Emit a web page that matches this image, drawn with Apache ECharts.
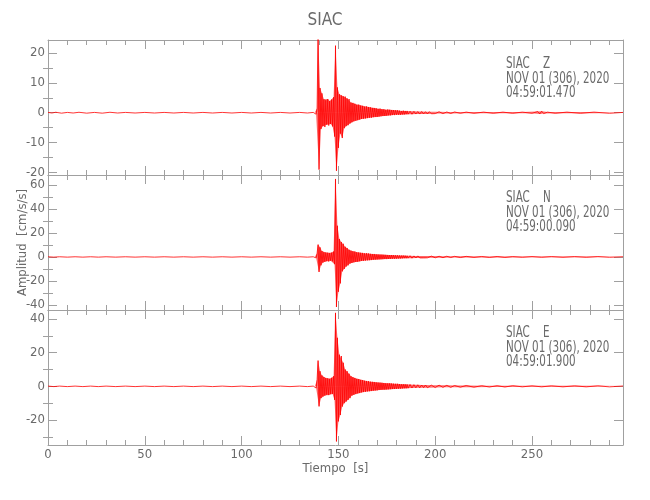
<!DOCTYPE html>
<html><head><meta charset="utf-8">
<script src="https://cdn.jsdelivr.net/npm/echarts@6/dist/echarts.min.js"></script>
<style>html,body{margin:0;padding:0;background:#fff}#c{width:650px;height:500px}</style>
</head><body><div id="c"></div>
<script>
// ---------- DATA ----------
const xTickLabels = [0, 50, 100, 150, 200, 250];
const yTicksZ = [-20, -10, 0, 10, 20];
const yMinorZ = [-15, -5, 5, 15];
const yTicksN = [-40, -20, 0, 20, 40, 60];
const yMinorN = [-30, -10, 10, 30, 50];
const yTicksE = [-20, 0, 20, 40];
const yMinorE = [-30, -10, 10, 30];
const components = ['Z', 'N', 'E'];
const stampDate = 'NOV 01 (306), 2020';
const stampTimes = ['04:59:01.470', '04:59:00.090', '04:59:01.900'];

// burst samples: every 0.5 s starting at 138.0 s
const burstStart = 138.0;
const burstStep = 0.5;

// --- Z component ---
const zPre = [[0,0.1],[2,-0.1],[4,0.15],[7,-0.15],[10,0.1],[13,-0.1],[16,0.15],[20,-0.15],[24,0.1],[28,-0.15],[32,0.15],[36,-0.1],[40,0.1],[45,-0.1],[50,0.1],[55,-0.1],[60,0.1],[65,-0.1],[70,0.1],[75,-0.1],[80,0.1],[85,-0.1],[90,0.1],[95,-0.1],[100,0.1],[105,-0.1],[110,0.1],[115,-0.1],[120,0.1],[125,-0.1],[130,0.1],[134,-0.1],[137,0.1]];
const zBurst = [0.3,-0.5,1.5,27,-19.1,8.3,-5.5,6.5,-4.5,4.5,-4.8,4.2,-4.0,4.6,-4.3,3.9,-3.8,4.4,-4.6,5.2,-8,22.5,-19.5,8.5,-11.8,6.2,-7,5.8,-8.5,5.5,-5.2,5.4,-4.5,4.8,-4.2,4.6,-3.6,3.4,-3.2,3.3,-2.9,3.0,-2.7,2.6,-2.5,2.7,-2.3,2.4,-2.1,2.3,-2.0,2.0,-1.9,2.1,-1.8,1.9,-1.7,1.8,-1.7,1.6,-1.5,1.6,-1.4,1.5,-1.4,1.3,-1.3,1.4,-1.2,1.2,-1.1,1.2,-1.1,1.0,-1.0,1.1,-0.9,1.0,-0.9,0.9,-0.8,0.9,-0.8,0.8,-0.7,0.8,-0.7,0.7,-0.7,0.6,-0.6,0.7,-0.6,0.6,-0.5,0.6,-0.5];
const zTail = [[187,0.5],[188,-0.5],[189,0.45],[190,-0.45],[191,0.4],[192,-0.45],[193,0.4],[194,-0.4],[195,0.35],[196,-0.4],[197,0.35],[198,-0.35],[199,0.3],[200,-0.3],[202,0.3],[204,-0.3],[206,0.25],[208,-0.25],[210,0.25],[213,-0.2],[216,0.2],[220,-0.2],[225,0.2],[230,-0.2],[235,0.2],[240,-0.2],[245,0.2],[250,-0.2],[253,0.4],[254,-0.4],[255,0.5],[256,-0.3],[258,0.2],[262,-0.2],[268,0.2],[275,-0.2],[282,0.2],[290,-0.2],[297,0.1]];

// --- N component ---
const nPre = [[0,0.15],[3,-0.15],[6,0.15],[10,-0.15],[14,0.15],[18,-0.15],[22,0.15],[26,-0.15],[30,0.15],[35,-0.15],[40,0.15],[45,-0.15],[50,0.15],[55,-0.15],[60,0.15],[65,-0.15],[70,0.15],[75,-0.15],[80,0.15],[85,-0.15],[90,0.15],[95,-0.15],[100,0.15],[105,-0.15],[110,0.15],[115,-0.15],[120,0.15],[125,-0.15],[130,0.15],[134,-0.15],[137,0.15]];
const nBurst = [0.5,-0.8,3,10.3,-12.5,8,-7,5,-4.7,4,-4,3.8,-3.5,3.6,-3.8,3.4,-3.2,3.5,-3.6,4.5,-6,65,-41.7,26,-29,15,-22,12.5,-12,11,-10,8.5,-8,7.5,-7,6,-5.5,5.2,-5,4.8,-4.5,4.6,-4.2,4,-4,3.8,-3.6,3.5,-3.3,3.4,-3.2,3,-3,3.1,-2.8,2.9,-2.7,2.6,-2.6,2.5,-2.4,2.5,-2.3,2.2,-2.2,2.1,-2.1,2.0,-2.0,2.0,-1.9,1.9,-1.8,1.8,-1.8,1.7,-1.7,1.6,-1.6,1.6,-1.5,1.5,-1.5,1.4,-1.4,1.4,-1.3,1.3,-1.3,1.2,-1.2,1.2,-1.1,1.1,-1.1,1.0,-1.0];
const nTail = [[187,1],[188,-1],[189,0.9],[190,-0.9],[191,0.9],[192,-0.8],[193,0.8],[194,-0.8],[195,0.8],[196,-0.7],[198,0.7],[200,-0.7],[202,0.6],[204,-0.6],[206,0.6],[208,-0.5],[210,0.5],[213,-0.5],[216,0.5],[220,-0.4],[224,0.4],[228,-0.4],[232,0.4],[236,-0.4],[240,0.3],[245,-0.3],[250,0.3],[255,-0.3],[260,0.3],[266,-0.3],[272,0.3],[278,-0.3],[284,0.3],[290,-0.3],[297,0.2]];

// --- E component ---
const ePre = [[0,0.15],[3,-0.15],[6,0.15],[10,-0.15],[14,0.15],[18,-0.15],[22,0.15],[26,-0.15],[30,0.15],[35,-0.15],[40,0.15],[45,-0.15],[50,0.15],[55,-0.15],[60,0.15],[65,-0.15],[70,0.15],[75,-0.15],[80,0.15],[85,-0.15],[90,0.15],[95,-0.15],[100,0.15],[105,-0.15],[110,0.15],[115,-0.15],[120,0.15],[125,-0.15],[130,0.15],[134,-0.15],[137,0.15]];
const eBurst = [0.5,-1,4,15.3,-11.9,9,-7,6.5,-6,5.5,-5.5,5,-5,4.8,-5.2,4.5,-4.6,5,-4.5,6,-8,43.6,-32.7,28.8,-20.8,18.8,-17,18,-12,14,-10,10,-9,9,-8,7.5,-7,6,-5.5,5.4,-5,5,-4.6,4.4,-4.2,4.3,-4,3.8,-3.6,3.7,-3.4,3.3,-3.2,3.2,-3,3.1,-2.9,2.8,-2.8,2.7,-2.6,2.6,-2.5,2.4,-2.4,2.3,-2.2,2.2,-2.1,2.1,-2.0,2.0,-2.0,1.9,-1.9,1.8,-1.8,1.8,-1.7,1.7,-1.6,1.6,-1.6,1.5,-1.5,1.5,-1.4,1.4,-1.4,1.3,-1.3,1.3,-1.2,1.2,-1.2,1.1,-1.1];
const eTail = [[187,1.1],[188,-1],[189,1],[190,-0.9],[191,0.9],[192,-0.9],[193,0.8],[194,-0.8],[195,0.8],[196,-0.8],[198,0.7],[200,-0.7],[202,0.7],[204,-0.6],[206,0.6],[208,-0.6],[210,0.5],[213,-0.5],[216,0.5],[220,-0.5],[224,0.4],[228,-0.4],[232,0.4],[236,-0.4],[240,0.4],[245,-0.3],[250,0.3],[255,-0.3],[260,0.3],[266,-0.3],[272,0.3],[278,-0.3],[284,0.3],[290,-0.3],[297,0.2]];

// ---------- CHART ----------
const traces = [[zPre, zBurst, zTail], [nPre, nBurst, nTail], [ePre, eBurst, eTail]];
const majorTicks = [yTicksZ, yTicksN, yTicksE];
const minorTicks = [yMinorZ, yMinorN, yMinorE];

function burstPoints(burst, tail) {
  const pts = burst.map((v, i) => [burstStart + i * burstStep, v]);
  return pts.concat(tail);
}

const FONT = "'DejaVu Sans Condensed', 'DejaVu Sans', sans-serif";
const GREY = '#a0a0a0';
const TXT = '#6a6a6a';
const RED = '#ff0000';
const yRanges = [
  { min: -20.9, max: 24.4 },
  { min: -44.2, max: 68.3 },
  { min: -34.8, max: 45.3 }
];
const panelTop = 40, panelH = 135;

const grids = [], xAxes = [], yAxes = [], series = [];
for (let i = 0; i < 3; i++) {
  grids.push({ left: 48, right: 27, top: panelTop + panelH * i, height: panelH });
  const isBottom = i === 2;
  const xBase = {
    type: 'value', gridIndex: i, min: 0, max: 297, interval: 50,
    axisLine: { onZero: false, lineStyle: { color: GREY, width: 1 } },
    axisTick: { inside: true, length: 9, lineStyle: { color: GREY } },
    minorTick: { show: true, splitNumber: 5, length: 5, lineStyle: { color: GREY } },
    splitLine: { show: false }
  };
  xAxes.push(Object.assign({}, xBase, {
    position: 'bottom',
    axisLabel: isBottom ? { show: true, color: TXT, fontFamily: FONT, fontSize: 13, margin: 3,
      formatter: v => xTickLabels.indexOf(v) >= 0 ? String(v) : '' } : { show: false },
    name: isBottom ? 'Tiempo  [s]' : '', nameLocation: 'middle', nameGap: 17, nameMoveOverlap: false,
    nameTextStyle: { color: TXT, fontFamily: FONT, fontSize: 13 }
  }));
  xAxes.push(Object.assign({}, xBase, { position: 'top', axisLabel: { show: false } }));

  const yr = yRanges[i];
  const yBase = {
    type: 'value', gridIndex: i, min: yr.min, max: yr.max,
    axisLine: { onZero: false, lineStyle: { color: GREY, width: 1 } },
    splitLine: { show: false }
  };
  ['left', 'right'].forEach(side => {
    yAxes.push(Object.assign({}, yBase, {
      position: side,
      axisTick: { inside: true, length: 9, customValues: majorTicks[i], lineStyle: { color: GREY } },
      axisLabel: side === 'left'
        ? { show: true, customValues: majorTicks[i], color: TXT, fontFamily: FONT, fontSize: 13, margin: 3 }
        : { show: false },
      name: (side === 'left' && i === 1) ? 'Amplitud  [cm/s/s]' : '', nameLocation: 'middle', nameGap: 19,
      nameMoveOverlap: false,
      nameTextStyle: { color: TXT, fontFamily: FONT, fontSize: 13 }
    }));
    yAxes.push(Object.assign({}, yBase, {
      position: side,
      axisLine: { show: false },
      axisTick: { inside: true, length: 5, customValues: minorTicks[i], lineStyle: { color: GREY } },
      axisLabel: { show: false }
    }));
  });
  const yIdx = 4 * i;
  const pts = burstPoints(traces[i][1], traces[i][2]);
  series.push({
    type: 'line', xAxisIndex: 2 * i, yAxisIndex: yIdx,
    data: pts.filter(p => p[1] >= 0), showSymbol: false, symbol: 'none', clip: true,
    lineStyle: { width: 0 }, areaStyle: { color: RED, opacity: 0.6, origin: 0 }, animation: false, silent: true
  });
  series.push({
    type: 'line', xAxisIndex: 2 * i, yAxisIndex: yIdx,
    data: pts.filter(p => p[1] <= 0), showSymbol: false, symbol: 'none', clip: true,
    lineStyle: { width: 0 }, areaStyle: { color: RED, opacity: 0.6, origin: 0 }, animation: false, silent: true
  });
  series.push({
    type: 'line', xAxisIndex: 2 * i, yAxisIndex: yIdx,
    data: traces[i][0].concat(pts),
    showSymbol: false, symbol: 'none', sampling: false, clip: true,
    lineStyle: { color: RED, width: 0.8 }, animation: false
  });
}

const stampY = [57, 191, 326];
const graphics = components.map((c, i) => ({
  type: 'text', x: 506, y: stampY[i], scaleX: 0.72, scaleY: 1,
  style: { text: 'SIAC    ' + c + '\n' + stampDate + '\n' + stampTimes[i],
    fill: TXT, font: '16px ' + FONT, lineHeight: 14.5 }
}));

const chart = echarts.init(document.getElementById('c'), null, { renderer: 'canvas' });
chart.setOption({
  backgroundColor: '#fff',
  animation: false,
  title: { text: 'SIAC', left: 'center', top: 12, textStyle: { color: TXT, fontFamily: FONT, fontSize: 17, fontWeight: 'normal' }, padding: 0 },
  grid: grids, xAxis: xAxes, yAxis: yAxes, series: series, graphic: graphics
});
</script></body></html>
